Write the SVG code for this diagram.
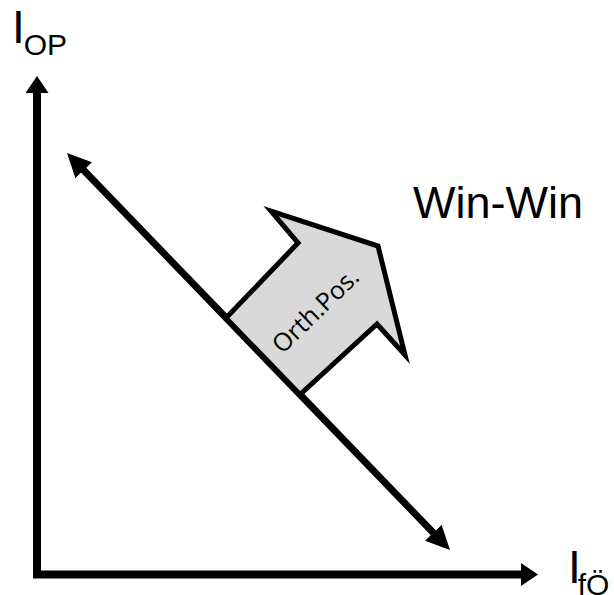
<svg xmlns="http://www.w3.org/2000/svg" width="614" height="595" viewBox="0 0 614 595">
<style>
.lbl{font-family:"Liberation Sans",Arial,sans-serif;fill:#000}
.axis{stroke:#000;stroke-width:8;fill:none}
.diag{stroke:#000;stroke-width:7;fill:none}
.shape{fill:#d9d9d9;stroke:#000;stroke-width:5;stroke-linejoin:miter;stroke-miterlimit:10}
.inner{font-family:"Open Sans","Noto Sans",sans-serif;font-size:25px;fill:#000}
</style>
<defs>
<marker id="ahAxis" markerUnits="userSpaceOnUse" markerWidth="17" markerHeight="23" viewBox="0 0 17 23" refX="2" refY="11.5" orient="auto"><path d="M0,0 L17,11.5 L0,23 z" fill="#000"/></marker>
<marker id="ahDiag" markerUnits="userSpaceOnUse" markerWidth="24" markerHeight="23" viewBox="0 0 24 23" refX="2" refY="11.5" orient="auto-start-reverse"><path d="M0,0 L24,11.5 L0,23 z" fill="#000"/></marker>
</defs>
<g id="connectors">
<line class="axis" x1="37" y1="578" x2="37" y2="91" marker-end="url(#ahAxis)"/>
<line class="axis" x1="33" y1="574.5" x2="523" y2="574.5" marker-end="url(#ahAxis)"/>
<line class="diag" x1="82.3" y1="168.8" x2="434.7" y2="534.2" marker-start="url(#ahDiag)" marker-end="url(#ahDiag)"/>
</g>
<g id="orthpos">
<polygon class="shape" points="226,318 298,243 271,211 378,246 405,355 377,324 300,394.5"/>
<text class="inner" x="316" y="319" text-anchor="middle" transform="rotate(-44 316 311)">Orth.Pos.</text>
</g>
<g id="label-iop">
<text class="lbl" x="12" y="43" font-size="46">I<tspan font-size="30" dx="-1" dy="12">OP</tspan></text>
</g>
<g id="label-ifo">
<text class="lbl" x="568" y="583" font-size="46">I<tspan font-size="30" dx="-3" dy="12">fÖ</tspan></text>
</g>
<g id="label-winwin">
<text class="lbl" x="413" y="218" font-size="45">Win-Win</text>
</g>
</svg>
